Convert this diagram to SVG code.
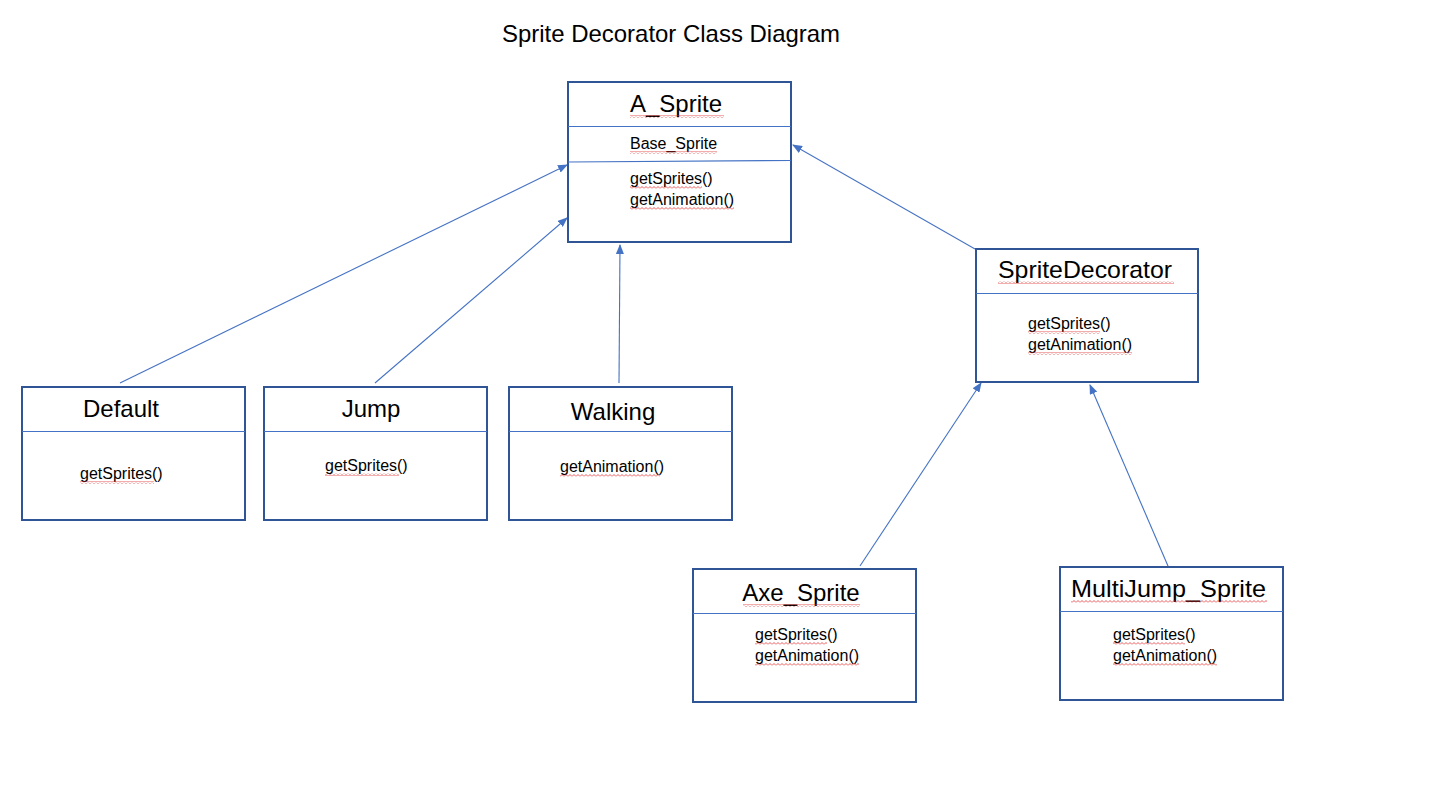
<svg xmlns="http://www.w3.org/2000/svg" width="1430" height="804" viewBox="0 0 1430 804">
<defs>
<style>
.box{fill:#fff;stroke:#2F5597;stroke-width:2}
.div{stroke:#4472C4;stroke-width:1.2}
.t{font-family:"Liberation Sans",Arial,sans-serif;fill:#000}
.h{font-size:24px}
.m{font-size:16px}
.c{stroke:#4472C4;stroke-width:1.1;fill:none;marker-end:url(#tri)}
.sq{fill:url(#squig)}
</style>
<marker id="tri" markerWidth="10" markerHeight="8" refX="9" refY="4" orient="auto" markerUnits="userSpaceOnUse">
<path d="M0,0 L10,4 L0,8 Z" fill="#4472C4"/>
</marker>
<pattern id="squig" width="4" height="3" patternUnits="userSpaceOnUse">
<path d="M0,2.5 L2,0.5 L4,2.5" stroke="#E03030" stroke-width="0.8" fill="none"/>
</pattern>
</defs>
<rect width="1430" height="804" fill="#fff"/>
<text class="t" x="502" y="42" font-size="24" textLength="338" lengthAdjust="spacingAndGlyphs">Sprite Decorator Class Diagram</text>

<g id="connectors">
<line class="c" x1="120" y1="383" x2="567" y2="165"/>
<line class="c" x1="375" y1="383" x2="567" y2="218"/>
<line class="c" x1="619" y1="383" x2="620" y2="245"/>
<line class="c" x1="975" y1="249" x2="793" y2="145"/>
<line class="c" x1="860" y1="566" x2="981" y2="383"/>
<line class="c" x1="1168" y1="566" x2="1090" y2="385"/>
</g>

<g id="A_Sprite">
<rect class="box" x="568" y="82" width="223" height="160"/>
<line class="div" x1="568" y1="126.5" x2="791" y2="126.5"/>
<line class="div" x1="568" y1="162" x2="791" y2="160.5"/>
<text class="t h" x="630" y="112">A_Sprite</text>
<rect class="sq" x="630" y="115" width="94" height="3"/>
<text class="t m" x="630" y="149">Base_Sprite</text>
<rect class="sq" x="630" y="151" width="87" height="3"/>
<text class="t m" x="630" y="184">getSprites()</text>
<rect class="sq" x="630" y="186" width="72" height="3"/>
<text class="t m" x="630" y="205">getAnimation()</text>
<rect class="sq" x="630" y="207" width="104" height="3"/>
</g>

<g id="SpriteDecorator">
<rect class="box" x="976" y="249" width="222" height="133"/>
<line class="div" x1="976" y1="293.5" x2="1198" y2="293.5"/>
<text class="t h" x="998" y="278" textLength="174" lengthAdjust="spacingAndGlyphs">SpriteDecorator</text>
<rect class="sq" x="998" y="281" width="176" height="3"/>
<text class="t m" x="1028" y="329">getSprites()</text>
<rect class="sq" x="1028" y="331" width="72" height="3"/>
<text class="t m" x="1028" y="350">getAnimation()</text>
<rect class="sq" x="1028" y="352" width="104" height="3"/>
</g>

<g id="Default">
<rect class="box" x="22" y="387" width="223" height="133"/>
<line class="div" x1="22" y1="431.5" x2="245" y2="431.5"/>
<text class="t h" x="121" y="417" text-anchor="middle">Default</text>
<text class="t m" x="80" y="479">getSprites()</text>
<rect class="sq" x="80" y="481" width="74" height="3"/>
</g>

<g id="Jump">
<rect class="box" x="264" y="387" width="223" height="133"/>
<line class="div" x1="264" y1="431.5" x2="487" y2="431.5"/>
<text class="t h" x="371" y="417" text-anchor="middle">Jump</text>
<text class="t m" x="325" y="471">getSprites()</text>
<rect class="sq" x="325" y="473" width="74" height="3"/>
</g>

<g id="Walking">
<rect class="box" x="509" y="387" width="223" height="133"/>
<line class="div" x1="509" y1="431.5" x2="732" y2="431.5"/>
<text class="t h" x="613" y="420" text-anchor="middle">Walking</text>
<text class="t m" x="560" y="472">getAnimation()</text>
<rect class="sq" x="560" y="474" width="100" height="3"/>
</g>

<g id="Axe_Sprite">
<rect class="box" x="693" y="569" width="223" height="133"/>
<line class="div" x1="693" y1="613.5" x2="916" y2="613.5"/>
<text class="t h" x="801" y="601" text-anchor="middle">Axe_Sprite</text>
<rect class="sq" x="743" y="604" width="117" height="3"/>
<text class="t m" x="755" y="640">getSprites()</text>
<rect class="sq" x="755" y="642" width="72" height="3"/>
<text class="t m" x="755" y="661">getAnimation()</text>
<rect class="sq" x="755" y="663" width="104" height="3"/>
</g>

<g id="MultiJump_Sprite">
<rect class="box" x="1060" y="567" width="223" height="133"/>
<line class="div" x1="1060" y1="611.5" x2="1283" y2="611.5"/>
<text class="t h" x="1071" y="597" textLength="195" lengthAdjust="spacingAndGlyphs">MultiJump_Sprite</text>
<rect class="sq" x="1071" y="600" width="196" height="3"/>
<text class="t m" x="1113" y="640">getSprites()</text>
<rect class="sq" x="1113" y="642" width="72" height="3"/>
<text class="t m" x="1113" y="661">getAnimation()</text>
<rect class="sq" x="1113" y="663" width="104" height="3"/>
</g>
</svg>
